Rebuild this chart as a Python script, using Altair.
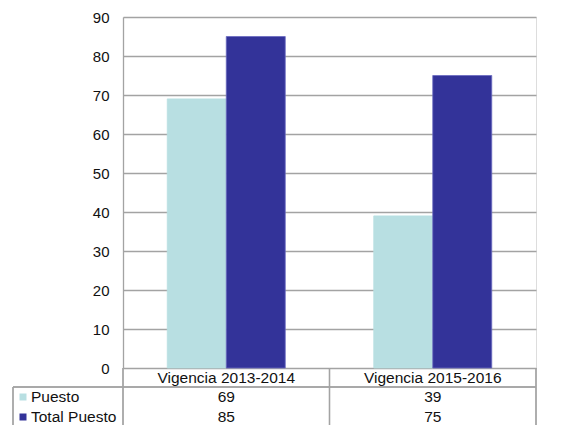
import altair as alt
import pandas as pd

categories = ["Vigencia 2013-2014", "Vigencia 2015-2016"]
series_names = ["Puesto", "Total Puesto"]
puesto = [69, 39]
total_puesto = [85, 75]
colors = ["#B8DFE2", "#333399"]
y_ticks = [0, 10, 20, 30, 40, 50, 60, 70, 80, 90]

rows = []
for c, p, t in zip(categories, puesto, total_puesto):
    rows.append({"categoria": c, "serie": series_names[0], "valor": p})
    rows.append({"categoria": c, "serie": series_names[1], "valor": t})
df = pd.DataFrame(rows)
cat_df = pd.DataFrame({"categoria": categories})
ser_df = pd.DataFrame({"serie": series_names})

W, H = 413, 351
FONT = "Liberation Sans"
GRAY = "#A3A3A3"
TXT = "#111111"
FS = 15.5

xscale = alt.Scale(domain=categories, paddingInner=0, paddingOuter=0)
color_scale = alt.Scale(domain=series_names, range=colors)

bars = alt.Chart(df).mark_bar(strokeWidth=0.8).encode(
    x=alt.X("categoria:N", scale=xscale, axis=None, sort=categories),
    xOffset=alt.XOffset("serie:N", sort=series_names,
                        scale=alt.Scale(paddingInner=0, paddingOuter=0.75)),
    y=alt.Y("valor:Q", scale=alt.Scale(domain=[0, 90], nice=False),
            axis=alt.Axis(values=y_ticks, title=None, grid=True, ticks=False,
                          domain=True, domainColor=GRAY, gridColor=GRAY,
                          gridWidth=1.3, domainWidth=1.3, labelPadding=14,
                          labelFont=FONT, labelFontSize=15, labelColor=TXT)),
    color=alt.Color("serie:N", scale=color_scale, legend=None),
    stroke=alt.Stroke("serie:N", scale=alt.Scale(domain=series_names,
                                                 range=["#B8DFE2", "#6A6AC0"]),
                      legend=None),
)

cat_text = alt.Chart(cat_df).mark_text(font=FONT, fontSize=FS, color=TXT,
                                       baseline="middle").encode(
    x=alt.X("categoria:N", scale=xscale, axis=None, sort=categories),
    y=alt.value(H + 10),
    text="categoria:N",
)

val_p = alt.Chart(df).transform_filter(alt.datum.serie == series_names[0]).mark_text(
    font=FONT, fontSize=FS, color=TXT, baseline="middle").encode(
    x=alt.X("categoria:N", scale=xscale, axis=None, sort=categories),
    y=alt.value(H + 29),
    text="valor:Q",
)
val_t = alt.Chart(df).transform_filter(alt.datum.serie == series_names[1]).mark_text(
    font=FONT, fontSize=FS, color=TXT, baseline="middle").encode(
    x=alt.X("categoria:N", scale=xscale, axis=None, sort=categories),
    y=alt.value(H + 49),
    text="valor:Q",
)

sw_p = alt.Chart(ser_df).transform_filter(alt.datum.serie == series_names[0]).mark_square(
    size=49, opacity=1).encode(
    x=alt.value(-100), y=alt.value(H + 29),
    color=alt.Color("serie:N", scale=color_scale, legend=None))
sw_t = alt.Chart(ser_df).transform_filter(alt.datum.serie == series_names[1]).mark_square(
    size=49, opacity=1).encode(
    x=alt.value(-100), y=alt.value(H + 49),
    color=alt.Color("serie:N", scale=color_scale, legend=None))

lab_p = alt.Chart(ser_df).transform_filter(alt.datum.serie == series_names[0]).mark_text(
    font=FONT, fontSize=FS, color=TXT, align="left", baseline="middle").encode(
    x=alt.value(-92), y=alt.value(H + 29), text="serie:N")
lab_t = alt.Chart(ser_df).transform_filter(alt.datum.serie == series_names[1]).mark_text(
    font=FONT, fontSize=FS, color=TXT, align="left", baseline="middle").encode(
    x=alt.value(-92), y=alt.value(H + 49), text="serie:N")


def hline(x1, x2, y):
    return alt.Chart(cat_df).mark_rule(color=GRAY, strokeWidth=1.3).encode(
        x=alt.value(x1), x2=alt.value(x2), y=alt.value(y))


def vline(x, y1, y2):
    return alt.Chart(cat_df).mark_rule(color=GRAY, strokeWidth=1.3).encode(
        x=alt.value(x), y=alt.value(y1), y2=alt.value(y2))


lines = [
    hline(-110, W, H + 19),
    vline(0, H, H + 70),
    vline(W / 2, H, H + 70),
    vline(W, H, H + 70),
    vline(-110, H + 19, H + 70),
]

chart = alt.layer(bars, cat_text, val_p, val_t, sw_p, sw_t, lab_p, lab_t, *lines).properties(
    width=W, height=H,
    autosize=alt.AutoSizeParams(type="none"),
    padding={"left": 115, "top": 9, "right": 15, "bottom": 57},
).configure_view(stroke=None).configure(background="white")

chart.save("out.html", embed_options={"renderer": "svg", "actions": False})
